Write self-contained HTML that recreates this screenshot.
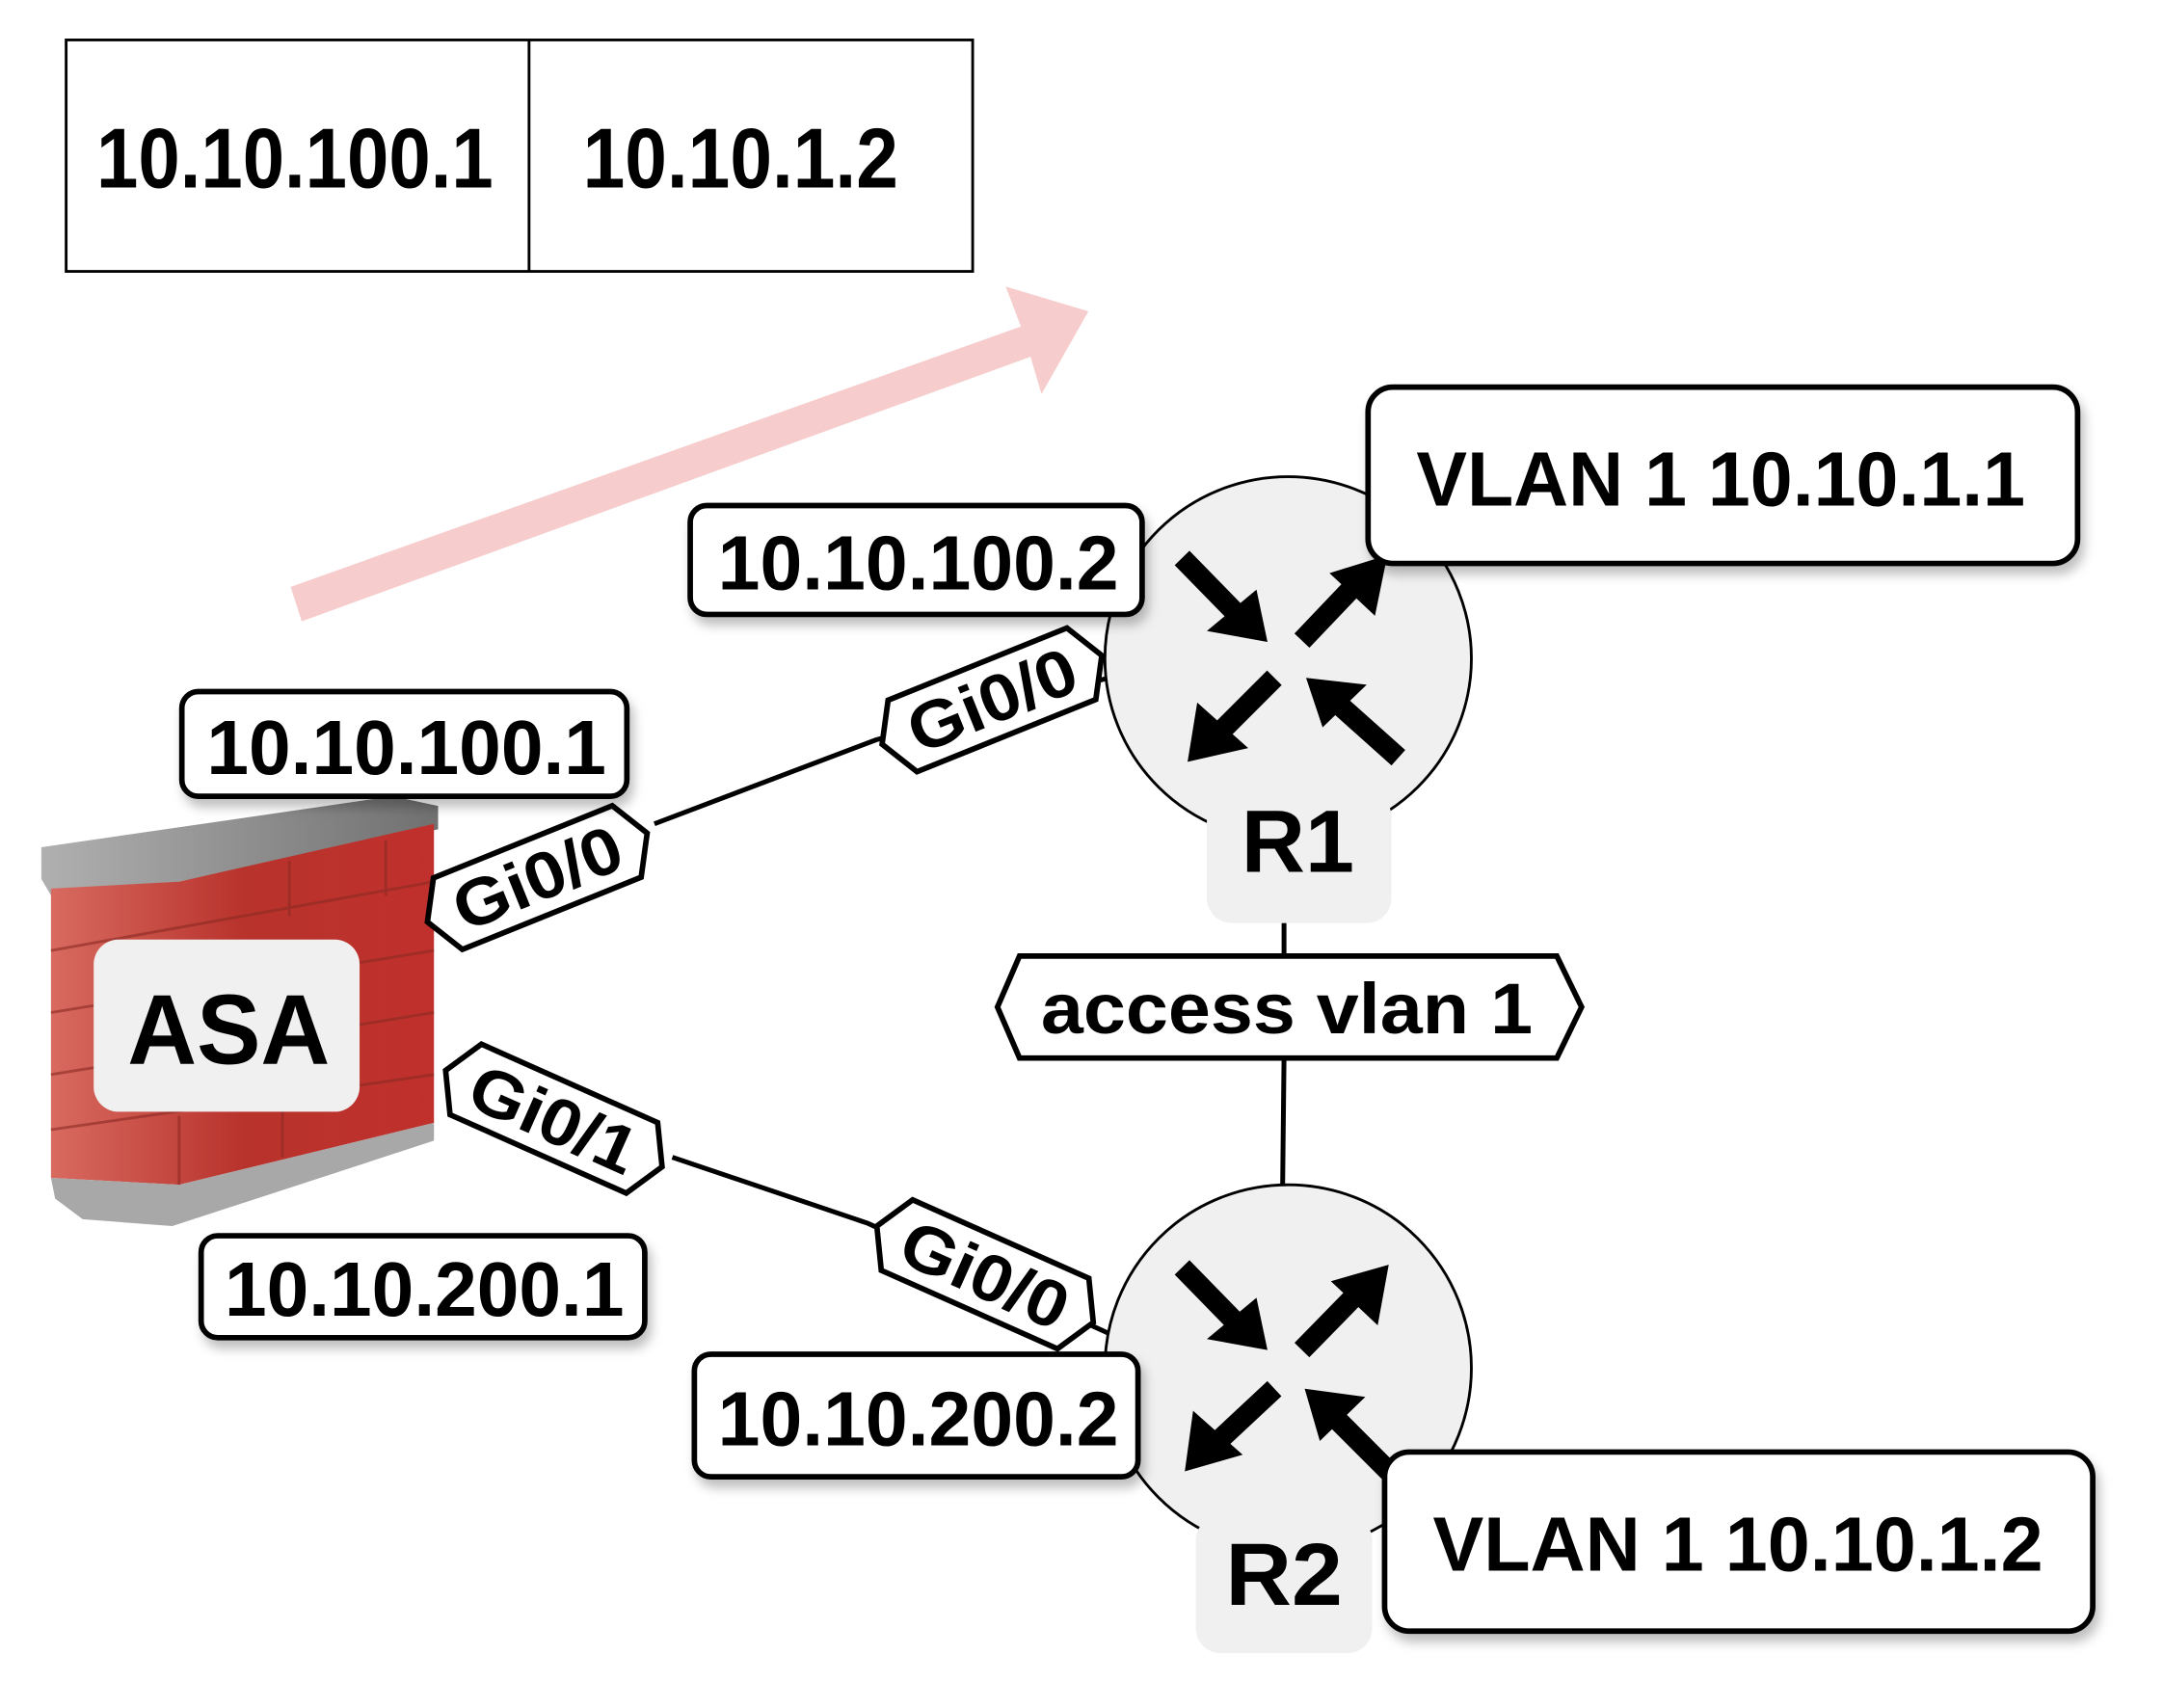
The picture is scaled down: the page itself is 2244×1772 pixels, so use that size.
<!DOCTYPE html>
<html><head><meta charset="utf-8"><style>
html,body{margin:0;padding:0;background:#fff}
svg{display:block}
text{font-family:"Liberation Sans",Arial,sans-serif;font-weight:bold;fill:#000}
</style></head><body>
<svg width="2244" height="1772" viewBox="0 0 1570 1239.8" preserveAspectRatio="none" xmlns="http://www.w3.org/2000/svg">
<defs>
<filter id="sh" x="-10%" y="-10%" width="130%" height="140%"><feDropShadow dx="3" dy="6" stdDeviation="4" flood-color="#000" flood-opacity="0.25"/></filter>
<linearGradient id="brick" x1="0" y1="0" x2="1" y2="0"><stop offset="0" stop-color="#d86a60"/><stop offset="0.5" stop-color="#b8332c"/><stop offset="1" stop-color="#c0302c"/></linearGradient>
<linearGradient id="cap" x1="0" y1="0" x2="1" y2="0"><stop offset="0" stop-color="#b0b0b0"/><stop offset="1" stop-color="#707070"/></linearGradient>
</defs>

<rect x="48" y="29" width="658" height="168" fill="#fff" stroke="#000" stroke-width="2"/>
<line x1="384" y1="29" x2="384" y2="197" stroke="#000" stroke-width="2"/>
<text x="70" y="136" font-size="62" textLength="288" lengthAdjust="spacingAndGlyphs">10.10.100.1</text>
<text x="423" y="136" font-size="62" textLength="229" lengthAdjust="spacingAndGlyphs">10.10.1.2</text>

<polygon points="211,426 741,237 730,208 790,226 756,286 748,259 219,451" fill="#f6cccc"/>

<polyline points="475,598 636,537 805,492" fill="none" stroke="#000" stroke-width="3.5"/>
<polyline points="488,840 630,888 805,968" fill="none" stroke="#000" stroke-width="3.5"/>
<line x1="932" y1="670" x2="932" y2="695" stroke="#000" stroke-width="3.5"/>
<line x1="932" y1="768" x2="931" y2="860" stroke="#000" stroke-width="3.5"/>

<polygon points="30,615 285,578 318,585 318,602 130,640 37,650 30,638" fill="url(#cap)"/>
<polygon points="37,645 130,640 315,598 315,815 130,860 37,855" fill="url(#brick)"/>
<polygon points="37,855 130,860 315,815 315,828 125,890 60,885 40,870" fill="#a8a8a8"/>
<g stroke="#8a2a24" stroke-width="2" opacity="0.6">
<line x1="37" y1="690" x2="315" y2="640"/><line x1="37" y1="735" x2="315" y2="690"/>
<line x1="37" y1="780" x2="315" y2="735"/><line x1="37" y1="820" x2="315" y2="780"/>
<line x1="210" y1="625" x2="210" y2="665"/><line x1="280" y1="610" x2="280" y2="650"/>
<line x1="205" y1="800" x2="205" y2="840"/><line x1="130" y1="810" x2="130" y2="860"/>
</g>
<rect x="68" y="682" width="193" height="125" rx="18" fill="#f0f0f0"/>
<text x="166" y="772" font-size="72" text-anchor="middle" textLength="147" lengthAdjust="spacingAndGlyphs">ASA</text>

<g>
<ellipse cx="935" cy="478" rx="133" ry="132" fill="#f0f0f0" stroke="#000" stroke-width="2"/>
<g fill="#000" stroke="#000">
<line x1="858" y1="405" x2="900" y2="448" stroke-width="15"/><polygon points="920,466 876,458 912,428" stroke="none"/>
<line x1="945" y1="465" x2="985" y2="423" stroke-width="15"/><polygon points="1007,403 998,447 965,416" stroke="none"/>
<line x1="925" y1="492" x2="882" y2="535" stroke-width="15"/><polygon points="862,553 869,510 906,543" stroke="none"/>
<line x1="1015" y1="550" x2="968" y2="508" stroke-width="15"/><polygon points="948,492 992,497 960,528" stroke="none"/>
</g>
<rect x="876" y="575" width="134" height="95" rx="18" fill="#f0f0f0"/>
<text x="942" y="633" font-size="64" text-anchor="middle" textLength="82" lengthAdjust="spacingAndGlyphs">R1</text>
</g>
<g>
<ellipse cx="935" cy="993" rx="133" ry="133" fill="#f0f0f0" stroke="#000" stroke-width="2"/>
<g fill="#000" stroke="#000">
<line x1="858" y1="920" x2="900" y2="963" stroke-width="15"/><polygon points="920,980 876,972 912,942" stroke="none"/>
<line x1="945" y1="980" x2="988" y2="936" stroke-width="15"/><polygon points="1008,918 1000,962 966,930" stroke="none"/>
<line x1="925" y1="1008" x2="880" y2="1050" stroke-width="15"/><polygon points="860,1068 866,1024 902,1056" stroke="none"/>
<line x1="1010" y1="1070" x2="966" y2="1026" stroke-width="15"/><polygon points="947,1008 991,1014 958,1046" stroke="none"/>
</g>
<rect x="868" y="1100" width="128" height="100" rx="18" fill="#f0f0f0"/>
<text x="932" y="1165" font-size="64" text-anchor="middle" textLength="85" lengthAdjust="spacingAndGlyphs">R2</text>
</g>

<g transform="translate(390,637) rotate(-22)">
<polygon points="-86,0 -70,-28 70,-28 86,0 70,28 -70,28" fill="#fff" stroke="#000" stroke-width="4"/>
<text x="0" y="17" font-size="48" text-anchor="middle" textLength="128" lengthAdjust="spacingAndGlyphs">Gi0/0</text>
</g>
<g transform="translate(720,508) rotate(-22)">
<polygon points="-86,0 -70,-28 70,-28 86,0 70,28 -70,28" fill="#fff" stroke="#000" stroke-width="4"/>
<text x="0" y="17" font-size="48" text-anchor="middle" textLength="128" lengthAdjust="spacingAndGlyphs">Gi0/0</text>
</g>
<g transform="translate(402,812) rotate(24)">
<polygon points="-86,0 -70,-28 70,-28 86,0 70,28 -70,28" fill="#fff" stroke="#000" stroke-width="4"/>
<text x="0" y="17" font-size="48" text-anchor="middle" textLength="128" lengthAdjust="spacingAndGlyphs">Gi0/1</text>
</g>
<g transform="translate(715,925) rotate(24)">
<polygon points="-86,0 -70,-28 70,-28 86,0 70,28 -70,28" fill="#fff" stroke="#000" stroke-width="4"/>
<text x="0" y="17" font-size="48" text-anchor="middle" textLength="128" lengthAdjust="spacingAndGlyphs">Gi0/0</text>
</g>

<polygon points="724,731 740,694 1130,694 1148,731 1130,768 740,768" fill="#fff" stroke="#000" stroke-width="4"/>
<text x="934" y="750" font-size="52" text-anchor="middle" textLength="357" lengthAdjust="spacingAndGlyphs">access vlan 1</text>

<g filter="url(#sh)" fill="#fff" stroke="#000" stroke-width="4">
<rect x="501" y="367" width="328" height="79" rx="12"/>
<rect x="132" y="502" width="323" height="76" rx="12"/>
<rect x="146" y="897" width="322" height="74" rx="12"/>
<rect x="504" y="983" width="322" height="89" rx="12"/>
<rect x="993" y="281" width="515" height="128" rx="18"/>
<rect x="1005" y="1054" width="514" height="130" rx="18"/>
</g>
<text x="521" y="428" font-size="56" textLength="291" lengthAdjust="spacingAndGlyphs">10.10.100.2</text>
<text x="150" y="562" font-size="56" textLength="290" lengthAdjust="spacingAndGlyphs">10.10.100.1</text>
<text x="163" y="955" font-size="56" textLength="290" lengthAdjust="spacingAndGlyphs">10.10.200.1</text>
<text x="521" y="1049" font-size="56" textLength="291" lengthAdjust="spacingAndGlyphs">10.10.200.2</text>
<text x="1028" y="367" font-size="56" textLength="442" lengthAdjust="spacingAndGlyphs">VLAN 1 10.10.1.1</text>
<text x="1040" y="1140" font-size="56" textLength="443" lengthAdjust="spacingAndGlyphs">VLAN 1 10.10.1.2</text>
</svg>
</body></html>
